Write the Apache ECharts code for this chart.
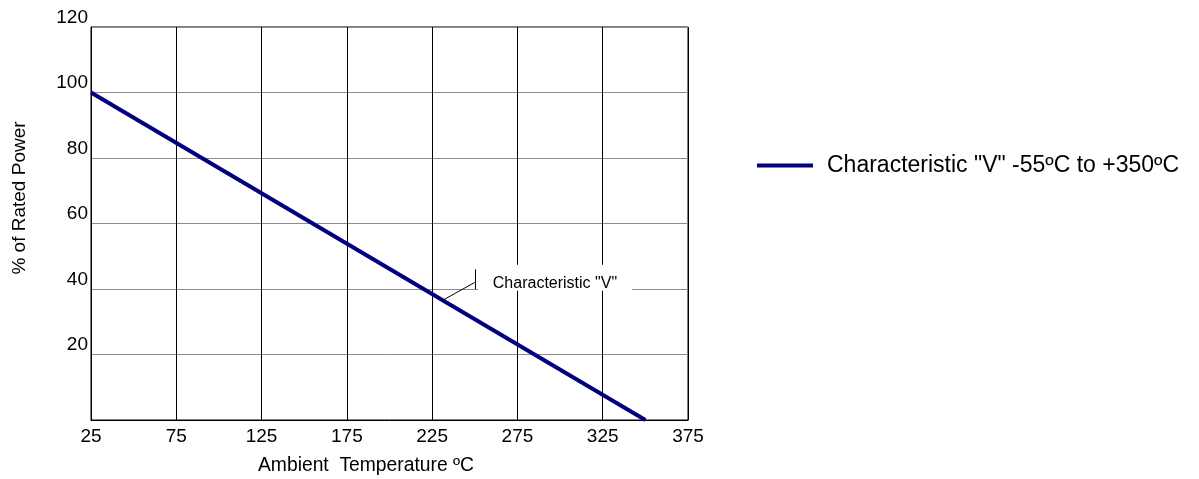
<!DOCTYPE html>
<html>
<head>
<meta charset="utf-8">
<script src="https://cdn.jsdelivr.net/npm/echarts@6/dist/echarts.min.js"></script>
<style>
html,body{margin:0;padding:0;background:#fff;}
#chart{width:1199px;height:479px;}
</style>
</head>
<body>
<div id="chart"></div>
<script>
// ---- data ----
var seriesName = 'Characteristic "V" -55ºC to +350ºC';
var tempX = [25, 350];          // Ambient temperature ºC
var powerY = [100, 0];          // % of rated power
var xTicks = [25, 75, 125, 175, 225, 275, 325, 375];
var yTicks = [20, 40, 60, 80, 100, 120];
var annotationText = 'Characteristic "V"';
var leaderFrom = [231, 36.5];
var leaderTo = [250, 42];
var tickFrom = [250, 40];
var tickTo = [250, 46];
var labelAt = [297, 43.4];

var FONT = '"Liberation Sans", Arial, sans-serif';
var chart = echarts.init(document.getElementById('chart'), null, {renderer: 'canvas'});

var lineData = tempX.map(function (x, i) { return [x, powerY[i]]; });

var option = {
  backgroundColor: '#fff',
  animation: false,
  textStyle: {fontFamily: FONT},
  grid: {left: 91, right: 511, top: 27, bottom: 59, show: true, borderColor: '#000', borderWidth: 1, backgroundColor: 'transparent'},
  legend: {
    left: 752, top: 149,
    icon: 'rect', itemWidth: 56, itemHeight: 4,
    textStyle: {fontSize: 23, color: '#000', fontFamily: FONT, padding: [0, 0, 0, 9]},
    data: [seriesName]
  },
  xAxis: {
    type: 'value', min: xTicks[0], max: xTicks[xTicks.length - 1], interval: 50,
    axisLine: {show: true, lineStyle: {color: '#000'}},
    axisTick: {show: false},
    axisLabel: {color: '#000', fontSize: 19, fontFamily: FONT, margin: 7,
      customValues: xTicks},
    splitLine: {show: true, lineStyle: {color: '#000', width: 1}}
  },
  yAxis: {
    type: 'value', min: 0, max: 120, interval: 20,
    axisLine: {show: true, lineStyle: {color: '#000'}},
    axisTick: {show: false},
    axisLabel: {color: '#000', fontSize: 19, fontFamily: FONT, margin: 3, verticalAlign: 'bottom',
      formatter: function (v) { return yTicks.indexOf(v) >= 0 ? String(v) : ''; }},
    splitLine: {show: true, lineStyle: {color: '#8c8c8c', width: 1}}
  },
  graphic: [
    {type: 'text', x: 20, y: 198, rotation: Math.PI / 2,
      style: {text: '% of Rated Power', font: '19px ' + FONT, fill: '#000', align: 'center', verticalAlign: 'middle'}},
    {type: 'text', x: 366, y: 466,
      style: {text: 'Ambient  Temperature ºC', font: '19.3px ' + FONT, fill: '#000', align: 'center', verticalAlign: 'middle'}}
  ],
  series: [
    {
      name: seriesName,
      type: 'line',
      data: lineData,
      showSymbol: false,
      symbol: 'none',
      lineStyle: {color: '#000080', width: 4},
      itemStyle: {color: '#000080'},
      z: 3,
      markLine: {
        silent: true, symbol: 'none', animation: false,
        lineStyle: {color: '#000', width: 1, type: 'solid'},
        label: {show: false},
        data: [
          [{coord: leaderFrom}, {coord: leaderTo}],
          [{coord: tickFrom}, {coord: tickTo}]
        ]
      },
      markPoint: {
        silent: true, animation: false,
        symbol: 'rect', symbolSize: [154, 26],
        itemStyle: {color: '#fff'},
        label: {show: true, position: 'inside', offset: [0, 6], color: '#000', fontSize: 16, fontFamily: FONT,
          formatter: function () { return annotationText; }},
        data: [{coord: labelAt, value: 0}]
      }
    }
  ]
};
chart.setOption(option);
</script>
</body>
</html>
